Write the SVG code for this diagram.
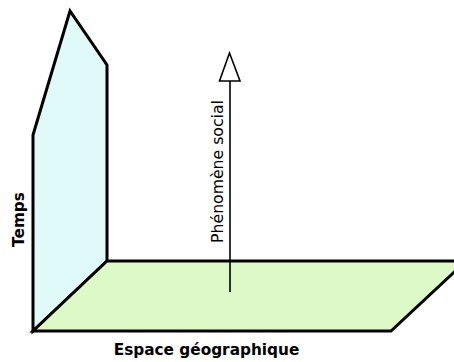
<svg xmlns="http://www.w3.org/2000/svg" width="454" height="362" viewBox="0 0 454 362">
<style>
.plane{stroke:#000;stroke-width:3;stroke-linejoin:miter}
.lbl{font-family:"DejaVu Sans",sans-serif;fill:#000}
.b{font-weight:bold;font-size:15.3px}
</style>
<rect width="454" height="362" fill="#fff"/>
<g id="temps-plane">
<polygon class="plane" fill="#e0f9f9" points="33,331 33,135 70,11 107,65 107,261"/>
</g>
<g id="espace-plane">
<polygon class="plane" fill="#def9c8" points="33,331 107,261 466,261 391,331"/>
</g>
<g id="connectors">
<line x1="230" y1="292" x2="230" y2="81" stroke="#000" stroke-width="1.6"/>
<polygon points="229.5,53 219.5,81 240,81" fill="#fff" stroke="#000" stroke-width="1.6"/>
</g>
<g id="labels">
<text class="lbl" font-size="15.7" transform="translate(223,171.5) rotate(-90)" text-anchor="middle">Phénomène social</text>
<text class="lbl b" transform="translate(24,219.5) rotate(-90)" text-anchor="middle">Temps</text>
<text class="lbl b" x="206.5" y="355" text-anchor="middle">Espace géographique</text>
</g>
</svg>
